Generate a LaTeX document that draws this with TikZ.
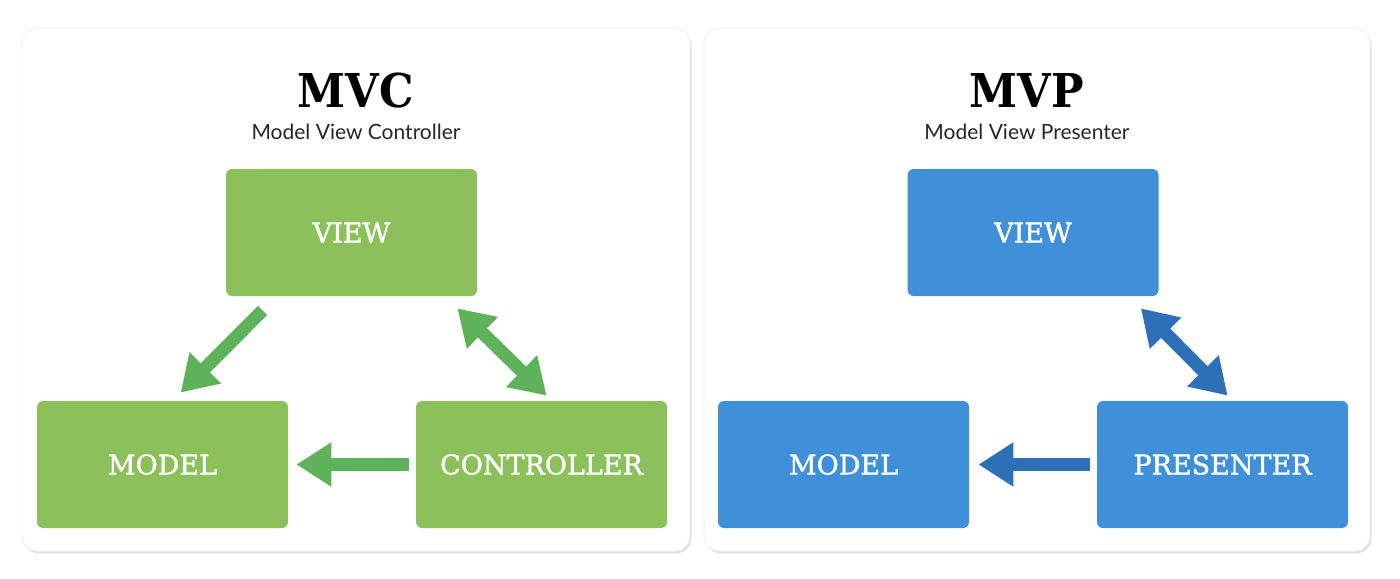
\documentclass[tikz,border=0pt]{standalone}
\usepackage{fontspec}
\usetikzlibrary{arrows.meta,calc,shadows}
\newfontfamily\slabfont[FakeBold=1.4]{DejaVu Serif}
\newfontfamily\slabbold[FakeStretch=0.93]{DejaVu Serif Bold}
\newfontfamily\subfont{Lato}
\definecolor{gbox}{HTML}{8BC05A}
\definecolor{garr}{HTML}{5DB25A}
\definecolor{bbox}{HTML}{4090D9}
\definecolor{barr}{HTML}{2D70B7}
\begin{document}
\begin{tikzpicture}[x=0.5pt,y=-0.5pt,
  panel/.style={rectangle, rounded corners=7.5pt, fill=white, draw=black!7,
    drop shadow={opacity=0.22, shadow xshift=0.8pt, shadow yshift=-1.2pt},
    minimum height=261.5pt, inner sep=0pt},
  titletext/.style={inner sep=0pt, font=\slabbold\fontsize{23.3}{26}\selectfont},
  subtext/.style={inner sep=0pt, font=\subfont\fontsize{10.5}{12}\selectfont, text=black!85},
  mbox/.style={rectangle, rounded corners=3pt, minimum width=125.5pt, minimum height=63.5pt,
    inner sep=0pt, text=white, font=\slabfont\fontsize{13.5}{16}\selectfont},
  gbx/.style={mbox, fill=gbox},
  bbx/.style={mbox, fill=bbox},
  arr/.style={line width=6.5pt, -{Triangle[length=17.5pt,width=21pt]}},
  darr/.style={line width=6.5pt, {Triangle[length=17.5pt,width=21pt]}-{Triangle[length=17.5pt,width=21pt]}}
]
\useasboundingbox (0,0) rectangle (1400,578);
\fill[white] (0,0) rectangle (1400,578);

% panels
\node[panel, minimum width=334pt] (pmvc) at (356,289.5) {};
\node[panel, minimum width=333pt] (pmvp) at (1037,289.5) {};

% MVC
\node[titletext] (tmvc) at (356,91) {MVC};
\node[subtext] (smvc) at (356,131.5) {Model View Controller};
\node[gbx] (view) at (351.5,232.5) {VIEW};
\node[gbx] (model) at (162.5,464.5) {MODEL};
\node[gbx] (ctrl) at (541.5,464.5) {CONTROLLER};

\draw[arr, garr] ($(view.south west)+(37,14)$) -- ($(model.north west)+(144,-8)$);
\draw[darr, garr] ($(view.south east)+(-20,12)$) -- ($(ctrl.north west)+(131,-5)$);
\draw[arr, garr] ([xshift=-3.5pt]ctrl.west) -- ([xshift=4pt]model.east);

% MVP
\node[titletext] (tmvp) at (1027,91) {MVP};
\node[subtext] (smvp) at (1027,131.5) {Model View Presenter};
\node[bbx] (rview) at (1033,232.5) {VIEW};
\node[bbx] (rmodel) at (843.5,464.5) {MODEL};
\node[bbx] (pres) at (1222.5,464.5) {PRESENTER};

\draw[darr, barr] ($(rview.south east)+(-18,12)$) -- ($(pres.north west)+(131,-5)$);
\draw[arr, barr] ([xshift=-3.5pt]pres.west) -- ([xshift=4.5pt]rmodel.east);
\end{tikzpicture}
\end{document}
